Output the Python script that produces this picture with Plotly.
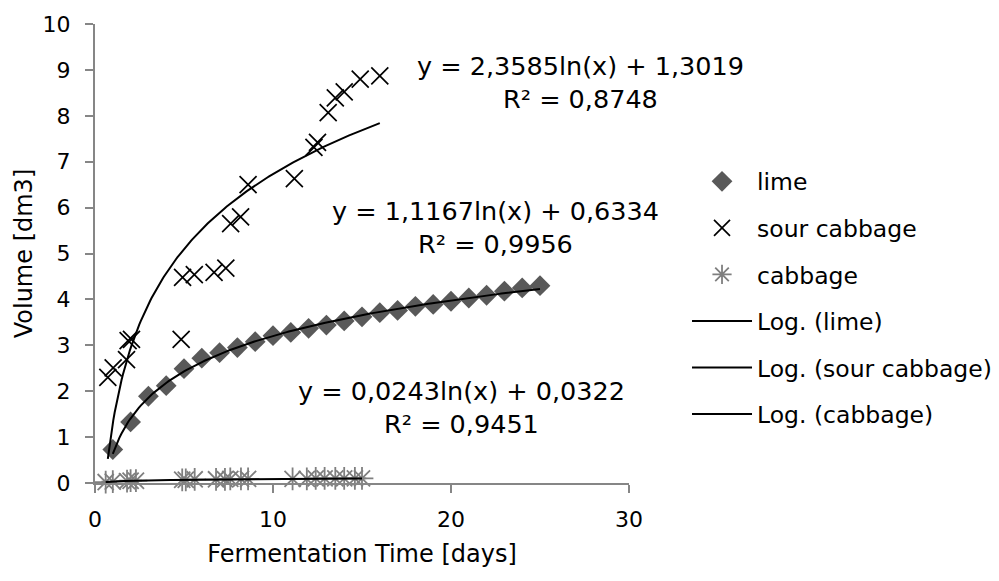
import numpy as np
import plotly.graph_objects as go

# ---- data ----
lime_x = list(range(1, 26))
lime_y = [0.73, 1.33, 1.89, 2.12, 2.49, 2.72, 2.84, 2.95, 3.08, 3.21, 3.28, 3.37, 3.44,
          3.53, 3.62, 3.71, 3.76, 3.85, 3.89, 3.96, 4.03, 4.09, 4.18, 4.25, 4.30]

sour_x = [0.72, 1.02, 1.77, 1.86, 2.05, 4.84, 4.92, 5.58, 6.69, 7.35, 7.62, 8.18, 8.6,
          11.2, 12.3, 12.5, 13.1, 13.5, 14.0, 14.9, 16.0]
sour_y = [2.30, 2.51, 2.69, 3.10, 3.13, 3.13, 4.48, 4.54, 4.59, 4.68, 5.65, 5.80, 6.50,
          6.63, 7.31, 7.42, 8.07, 8.39, 8.52, 8.80, 8.87]

cabbage_x = [0.6, 1.0, 1.8, 2.0, 2.3, 4.9, 5.1, 5.6, 6.8, 7.3, 7.6, 8.2, 8.6,
             11.1, 11.9, 12.4, 12.9, 13.5, 14.0, 14.6, 15.0]
cabbage_y = [0.02, 0.03, 0.04, 0.05, 0.05, 0.07, 0.07, 0.08, 0.08, 0.08, 0.09, 0.09, 0.09,
             0.09, 0.09, 0.10, 0.10, 0.10, 0.10, 0.10, 0.10]

# logarithmic trend coefficients shown on the chart: y = a*ln(x) + b, and R²
lime_fit = [1.1167, 0.6334, 0.9956]
sour_fit = [2.3585, 1.3019, 0.8748]
cabbage_fit = [0.0243, 0.0322, 0.9451]

series_names = ["lime", "sour cabbage", "cabbage"]
trend_names = ["Log. (lime)", "Log. (sour cabbage)", "Log. (cabbage)"]

x_ticks = [0, 10, 20, 30]
y_ticks = list(range(0, 11))

FONT = "DejaVu Sans"
AXIS = "#868686"


def trend(xs, fit):
    t = np.linspace(min(xs), max(xs), 200)
    return t, fit[0] * np.log(t) + fit[1]


def eq_text(fit):
    a = f"{fit[0]:.4f}".replace(".", ",")
    b = f"{fit[1]:.4f}".replace(".", ",")
    r = f"{fit[2]:.4f}".replace(".", ",")
    return f"y = {a}ln(x) + {b}<br>R² = {r}"


fig = go.Figure()

fig.add_trace(go.Scatter(x=lime_x, y=lime_y, mode="markers", name=series_names[0],
                         legendgroup="a",
                         marker=dict(symbol="diamond", size=16, color="#595959"),
                         cliponaxis=False))
fig.add_trace(go.Scatter(x=sour_x, y=sour_y, mode="markers", name=series_names[1],
                         legendgroup="b",
                         marker=dict(symbol="x-thin-open", size=17, color="#000000",
                                     line=dict(width=1.7, color="#000000")),
                         cliponaxis=False))
fig.add_trace(go.Scatter(x=cabbage_x, y=cabbage_y, mode="markers", name=series_names[2],
                         legendgroup="c",
                         marker=dict(symbol="asterisk-open", size=19, color="#7f7f7f",
                                     line=dict(width=1.8, color="#7f7f7f")),
                         cliponaxis=False))

for xs, fit, nm, g in [(lime_x, lime_fit, trend_names[0], "d"),
                       (sour_x, sour_fit, trend_names[1], "e"),
                       (cabbage_x, cabbage_fit, trend_names[2], "f")]:
    tx, ty = trend(xs, fit)
    fig.add_trace(go.Scatter(x=tx, y=ty, mode="lines", name=nm, legendgroup=g,
                             line=dict(color="#000000", width=2), cliponaxis=False))

annots = [(sour_fit, 27.3, 8.73), (lime_fit, 22.5, 5.56), (cabbage_fit, 20.6, 1.64)]
for fit, ax, ay in annots:
    fig.add_annotation(x=ax, y=ay, xref="x", yref="y", text=eq_text(fit),
                       showarrow=False, align="center",
                       font=dict(family=FONT, size=25.5, color="#000000"))

fig.update_layout(
    width=999, height=581,
    margin=dict(l=95, r=370, t=21, b=98),
    paper_bgcolor="white", plot_bgcolor="white",
    font=dict(family=FONT, size=22, color="#000000"),
    showlegend=True,
    legend=dict(xref="container", yref="container", x=0.6877, y=0.487,
                xanchor="left", yanchor="middle",
                tracegroupgap=13, itemwidth=60,
                font=dict(family=FONT, size=23.5, color="#000000"),
                bgcolor="rgba(0,0,0,0)"),
    xaxis=dict(range=[0, 30], tickvals=x_ticks, showgrid=False, zeroline=False,
               showline=True, linecolor=AXIS, linewidth=2, ticks="outside",
               ticklen=8, tickcolor=AXIS, tickwidth=2, ticklabelstandoff=8,
               tickfont=dict(family=FONT, size=22, color="#000000"),
               title=dict(text="Fermentation Time [days]", standoff=14,
                          font=dict(family=FONT, size=24, color="#000000"))),
    yaxis=dict(range=[0, 10], tickvals=y_ticks, showgrid=False, zeroline=False,
               showline=True, linecolor=AXIS, linewidth=2, ticks="outside",
               ticklen=8, tickcolor=AXIS, tickwidth=2, ticklabelstandoff=10,
               tickfont=dict(family=FONT, size=22, color="#000000"),
               title=dict(text="Volume [dm3]", standoff=3,
                          font=dict(family=FONT, size=24, color="#000000"))),
)

fig.write_html("out.html")
